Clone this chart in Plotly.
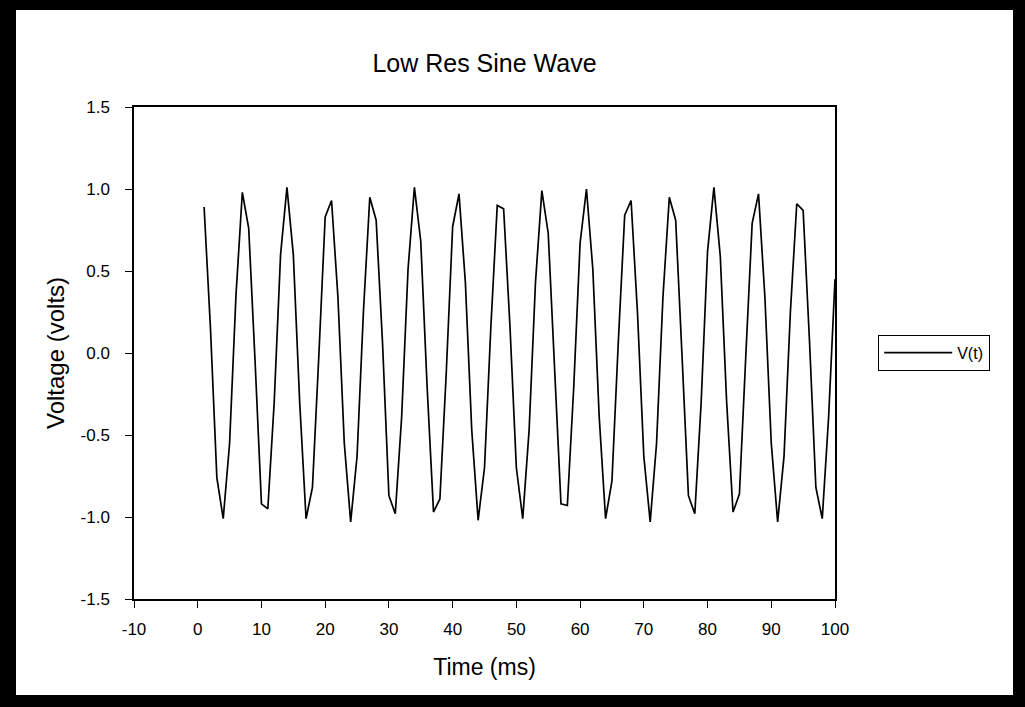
import plotly.graph_objects as go

# ---- data ----
time_ms = list(range(1, 101))
voltage = [
    0.89, 0.15, -0.76, -1.01, -0.55, 0.35, 0.98, 0.76, -0.05, -0.92,
    -0.95, -0.30, 0.60, 1.01, 0.60, -0.30, -1.01, -0.82, -0.02, 0.83,
    0.93, 0.34, -0.55, -1.03, -0.63, 0.25, 0.95, 0.81, 0.06, -0.87,
    -0.98, -0.39, 0.51, 1.01, 0.68, -0.21, -0.97, -0.89, -0.12, 0.77,
    0.97, 0.43, -0.47, -1.02, -0.70, 0.16, 0.90, 0.88, 0.16, -0.70,
    -1.01, -0.47, 0.43, 0.99, 0.73, -0.12, -0.92, -0.93, -0.21, 0.67,
    1.00, 0.51, -0.39, -1.01, -0.78, 0.07, 0.84, 0.93, 0.25, -0.63,
    -1.03, -0.55, 0.34, 0.95, 0.81, -0.02, -0.87, -0.98, -0.30, 0.62,
    1.01, 0.59, -0.30, -0.97, -0.86, -0.02, 0.79, 0.97, 0.34, -0.55,
    -1.03, -0.63, 0.25, 0.91, 0.87, 0.07, -0.82, -1.01, -0.39, 0.45,
]
x_tick_vals = [-10, 0, 10, 20, 30, 40, 50, 60, 70, 80, 90, 100]
x_tick_text = ["-10", "0", "10", "20", "30", "40", "50", "60", "70", "80", "90", "100"]
y_tick_vals = [-1.5, -1.0, -0.5, 0.0, 0.5, 1.0, 1.5]
y_tick_text = ["-1.5", "-1.0", "-0.5", "0.0", "0.5", "1.0", "1.5"]
series_name = "V(t)"

# ---- layout geometry (pixels) ----
W, H = 1025, 707
L, R, T, B = 134, 835, 107, 599
FONT = "Liberation Sans, Arial, sans-serif"


def px_to_paper_x(px):
    return (px - L) / (R - L)


def px_to_paper_y(py):
    return (B - py) / (B - T)


fig = go.Figure()
fig.add_trace(go.Scatter(
    x=time_ms, y=voltage, mode="lines", name=series_name,
    line=dict(color="black", width=1.7),
))

fig.update_layout(
    width=W, height=H,
    margin=dict(l=L, r=W - R, t=T, b=H - B, pad=0),
    paper_bgcolor="black",
    plot_bgcolor="white",
    font=dict(family=FONT, color="black"),
    title=dict(text="Low Res Sine Wave", x=0.5, xref="paper", xanchor="center",
               y=1 - 63 / H, yref="container", yanchor="middle",
               font=dict(size=25, family=FONT, color="black")),
    showlegend=True,
    legend=dict(x=px_to_paper_x(878), y=px_to_paper_y(353), xanchor="left", yanchor="middle",
                bgcolor="white", bordercolor="black", borderwidth=1.2,
                font=dict(size=16, family=FONT, color="black"),
                itemwidth=68),
    shapes=[dict(type="rect", xref="paper", yref="paper", layer="below",
                 x0=px_to_paper_x(16), x1=px_to_paper_x(1013),
                 y0=px_to_paper_y(695), y1=px_to_paper_y(10),
                 fillcolor="white", line=dict(width=0))],
)

fig.update_xaxes(
    range=[-10, 100], tickmode="array", tickvals=x_tick_vals, ticktext=x_tick_text,
    ticks="outside", ticklen=7, tickwidth=1.2, tickcolor="black",
    showline=True, linecolor="black", linewidth=1.5, mirror=True,
    showgrid=False, zeroline=False, ticklabelstandoff=7,
    tickfont=dict(size=17, family=FONT, color="black"),
    title=dict(text="Time (ms)", font=dict(size=23, family=FONT, color="black"), standoff=21),
)
fig.update_yaxes(
    range=[-1.5, 1.5], tickmode="array", tickvals=y_tick_vals, ticktext=y_tick_text,
    ticks="outside", ticklen=7, tickwidth=1.2, tickcolor="black",
    showline=True, linecolor="black", linewidth=1.5, mirror=True,
    showgrid=False, zeroline=False, ticklabelstandoff=12,
    tickfont=dict(size=17, family=FONT, color="black"),
    title=dict(text="Voltage (volts)", font=dict(size=24, family=FONT, color="black"), standoff=9),
)

fig.write_html(
    "out.html",
    config={"displayModeBar": False},
    post_script="document.body.style.margin='0px';document.body.style.background='black';",
)
